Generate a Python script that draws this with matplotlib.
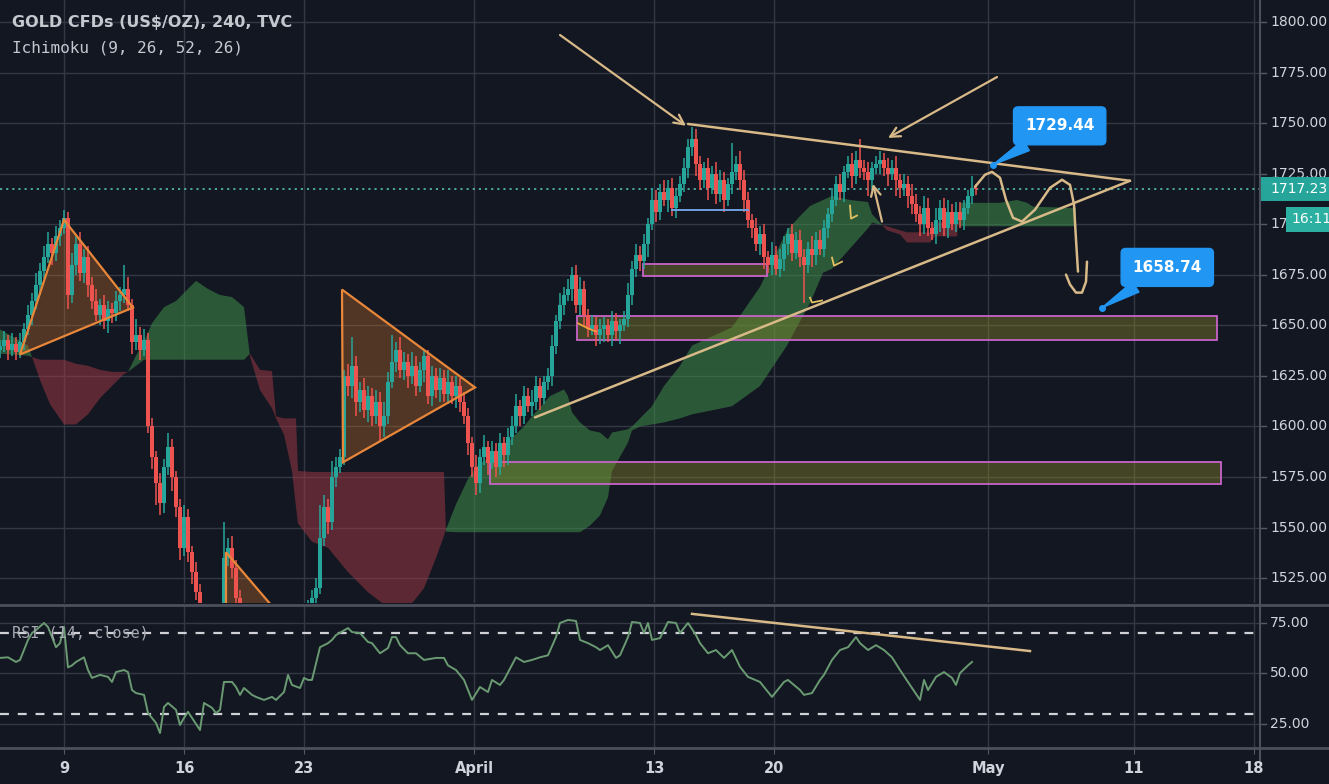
import numpy as np
import matplotlib
matplotlib.use("Agg")
import matplotlib.pyplot as plt
import matplotlib.transforms as mtransforms
from matplotlib.patches import Polygon, Rectangle

# ---------------------------------------------------------------- data
# 4-hour bars, bar 0 = first bar of Mon 9 March
first_bar = -16
closes = [
    1640, 1643, 1638, 1641, 1637, 1642, 1648, 1655, 1662, 1670,
    1677, 1684, 1690, 1686, 1694, 1698, 1703, 1665, 1680, 1690,
    1676, 1684, 1670, 1662, 1655, 1660, 1652, 1658, 1656, 1662,
    1665, 1668, 1660, 1642, 1645, 1638, 1643, 1600, 1585, 1572,
    1562, 1580, 1590, 1575, 1560, 1540, 1555, 1538, 1528, 1518,
    1505, 1490, 1478, 1470, 1485, 1495, 1535, 1540, 1530, 1515,
    1505, 1500, 1490, 1485, 1478, 1488, 1495, 1482, 1475, 1470,
    1480, 1490, 1497, 1505, 1498, 1495, 1502, 1508, 1515, 1520,
    1545, 1560, 1553, 1575, 1580, 1585, 1625, 1620, 1630, 1612,
    1618, 1608, 1615, 1605, 1612, 1600, 1605, 1622, 1632, 1638,
    1628, 1632, 1625, 1630, 1620, 1628, 1635, 1615, 1625, 1618,
    1624, 1616, 1622, 1615, 1620, 1612, 1605, 1592, 1580, 1572,
    1585, 1590, 1582, 1588, 1580, 1592, 1586, 1595, 1600, 1610,
    1605, 1615, 1610, 1612, 1620, 1614, 1622, 1625, 1640, 1652,
    1660, 1665, 1668, 1675, 1660, 1668, 1655, 1648, 1650, 1645,
    1648, 1650, 1645, 1652, 1647, 1650, 1653, 1665, 1678, 1685,
    1682, 1690, 1700, 1712, 1706, 1716, 1712, 1718, 1708, 1714,
    1720, 1728, 1738, 1742, 1730, 1722, 1728, 1718, 1725, 1715,
    1722, 1712, 1720, 1726, 1730, 1722, 1712, 1702, 1698, 1690,
    1695, 1684, 1680, 1685, 1678, 1683, 1690, 1695, 1686, 1692,
    1684, 1680, 1688, 1685, 1692, 1688, 1698, 1705, 1712, 1720,
    1716, 1726, 1730, 1724, 1732, 1728, 1726, 1722, 1728, 1730,
    1732, 1728, 1725, 1728, 1722, 1718, 1720, 1714, 1710, 1705,
    1700, 1708, 1698, 1695, 1702, 1708, 1698, 1706, 1700, 1706,
    1702, 1708, 1714, 1718, 1717.23,
]
first_open = 1638
wick_up = [
    3, 4, 2, 5, 3, 4, 3, 5, 4, 6,
    4, 5, 6, 3, 5, 4, 4, 3, 6, 5,
    6, 4, 5, 4, 6, 3, 5, 4, 3, 5,
    4, 12, 6, 3, 8, 4, 5, 3, 4, 3,
    5, 4, 7, 4, 3, 4, 6, 4, 3, 5,
    4, 5, 3, 4, 5, 4, 18, 5, 6, 4,
    4, 5, 4, 3, 5, 4, 6, 4, 3, 4,
    5, 4, 6, 5, 4, 5, 4, 6, 4, 5,
    16, 6, 4, 8, 5, 4, 3, 6, 14, 5,
    4, 6, 5, 4, 6, 5, 7, 5, 13, 4,
    6, 5, 4, 7, 5, 4, 3, 3, 5, 4,
    5, 4, 6, 3, 5, 4, 5, 4, 3, 6,
    4, 6, 3, 5, 4, 5, 3, 4, 5, 6,
    3, 5, 4, 6, 5, 4, 3, 4, 5, 3,
    6, 4, 5, 4, 5, 6, 4, 3, 5, 4,
    5, 4, 3, 5, 4, 3, 4, 6, 4, 5,
    4, 5, 3, 6, 5, 4, 6, 4, 5, 3,
    4, 5, 4, 6, 5, 4, 3, 5, 4, 6,
    5, 4, 3, 14, 4, 6, 5, 4, 3, 5,
    4, 5, 3, 6, 4, 5, 4, 3, 5, 4,
    5, 4, 3, 6, 4, 5, 4, 3, 6, 4,
    5, 3, 4, 5, 4, 10, 4, 5, 3, 4,
    4, 3, 5, 4, 6, 3, 5, 4, 6, 5,
    4, 6, 5, 3, 6, 4, 5, 6, 4, 5,
    5, 4, 3, 6, 2,
]
wick_dn = [
    4, 3, 5, 3, 4, 3, 4, 3, 5, 4,
    5, 4, 3, 6, 4, 5, 3, 7, 4, 5,
    4, 5, 6, 4, 3, 5, 4, 6, 5, 4,
    5, 4, 3, 6, 4, 5, 3, 3, 6, 11,
    6, 5, 4, 7, 5, 6, 4, 5, 6, 4,
    5, 4, 6, 5, 4, 5, 3, 4, 5, 4,
    5, 4, 6, 4, 3, 5, 4, 6, 5, 4,
    4, 5, 3, 4, 6, 5, 4, 3, 5, 4,
    3, 4, 6, 4, 5, 3, 4, 5, 6, 7,
    5, 4, 6, 5, 4, 7, 5, 4, 3, 5,
    4, 5, 6, 4, 5, 3, 6, 4, 5, 4,
    6, 4, 5, 4, 6, 5, 4, 6, 5, 6,
    5, 4, 6, 3, 5, 4, 6, 5, 4, 3,
    5, 4, 3, 5, 4, 6, 3, 4, 5, 4,
    4, 5, 3, 6, 4, 5, 6, 4, 3, 5,
    4, 6, 3, 5, 4, 6, 3, 4, 5, 4,
    5, 4, 6, 3, 5, 4, 3, 6, 4, 5,
    3, 4, 5, 4, 6, 5, 4, 6, 3, 5,
    4, 6, 3, 5, 4, 5, 6, 4, 5, 3,
    5, 6, 4, 5, 3, 4, 6, 5, 4, 3,
    5, 19, 4, 6, 5, 3, 4, 5, 4, 3,
    4, 5, 3, 6, 4, 5, 4, 8, 5, 3,
    5, 4, 6, 3, 8, 5, 4, 6, 5, 4,
    6, 5, 4, 3, 5, 6, 4, 5, 3, 4,
    4, 5, 3, 4, 3,
]

# Ichimoku cloud (leading spans, already displaced 26 bars forward)
cloud_bars = [
    -16, -9, -6, -3.5, 0, 3, 6, 9, 12, 15, 16, 18, 20, 22, 25, 28, 31, 33,
    36, 39, 42, 45, 46.5, 49, 52, 53, 55, 57, 58, 58.5, 62, 66, 71, 76, 80,
    86, 90, 93, 95, 95.5, 98, 101, 103, 109, 115, 117, 121.5, 125, 126, 127,
    129, 131.5, 134, 136, 137, 141, 142, 144, 147, 150, 154, 157, 167, 174,
    180.75, 184, 186.5, 189.75, 192, 196.5, 201, 202, 205.75, 209, 210.75,
    216.5, 217.75, 223.25, 224, 234, 238.25, 240.75, 242.25, 253,
]
span_a = [
    1648, 1640, 1623, 1611, 1601, 1601, 1606, 1614, 1620, 1626, 1627, 1635,
    1642, 1651, 1659, 1662, 1668, 1672, 1668, 1665, 1664, 1659, 1634.6, 1618,
    1609, 1604, 1596, 1578, 1560, 1552, 1543, 1540, 1528, 1518, 1512, 1510,
    1520, 1535, 1546, 1549, 1561.5, 1574, 1580, 1588.7, 1600, 1605, 1615,
    1618.3, 1615, 1607, 1602, 1598, 1597, 1593.6, 1597, 1598.6, 1600, 1604,
    1610, 1620, 1630, 1640, 1649, 1669, 1697, 1704, 1709, 1712, 1714, 1712,
    1711, 1705, 1697, 1695, 1691, 1691, 1694, 1694, 1710.6, 1710.6, 1712,
    1710.6, 1708.7, 1708,
]
span_b = [
    1636, 1635, 1633, 1633, 1633, 1631, 1630, 1628, 1627, 1627, 1627, 1630,
    1633, 1633, 1633, 1633, 1633, 1633, 1633, 1633, 1633, 1633, 1636, 1628,
    1627.4, 1605, 1604, 1604, 1604, 1578, 1577.5, 1577.5, 1577.5, 1577.5,
    1577.5, 1577.5, 1577.5, 1577.5, 1577.5, 1548, 1547.7, 1547.7, 1547.7,
    1547.7, 1547.7, 1547.7, 1547.7, 1547.7, 1547.7, 1547.7, 1547.7, 1551,
    1556, 1565, 1578, 1592, 1598, 1600, 1601, 1602, 1604, 1606, 1610, 1620,
    1640, 1652, 1661, 1676, 1678, 1688, 1698, 1700.8, 1699, 1697, 1696, 1696,
    1701, 1701, 1699, 1699, 1699, 1699, 1699, 1699,
]

# RSI (14, close)
rsi_bars = [
    -16, -14, -12, -11, -10, -9, -8, -7, -5, -4, -2, -1, 0, 1, 2, 3, 5, 6, 7,
    9, 11, 12, 13, 15, 16, 17, 18, 20, 21, 23, 24, 25, 26, 28, 29, 30, 31,
    32, 34, 35, 37, 38, 39, 40, 42, 43, 44, 45, 47, 48, 50, 52, 53, 55, 56,
    57, 59, 60, 61, 62, 64, 66, 67, 68, 71, 72, 74, 76, 77, 79, 81, 82, 83,
    84, 86, 88, 90, 93, 95, 96, 98, 100, 102, 104, 106, 107, 109, 110, 113,
    115, 117, 119, 121, 123, 124, 126, 128, 129, 131, 133, 134, 136, 138,
    139, 141, 142, 144, 145, 146, 147, 149, 151, 153, 154, 156, 158, 159,
    161, 163, 165, 167, 169, 171, 174, 175, 177, 180, 181, 184, 185, 187,
    189, 190, 192, 194, 196, 198, 199, 201, 203, 205, 207, 209, 211, 212,
    214, 215, 216, 218, 220, 222, 223, 224, 226, 227,
]
rsi_values = [
    57.7, 58, 55.7, 56.7, 61.6, 66.6, 70, 71.5, 75, 73, 63, 65, 73, 53, 54,
    55.7, 58, 51.7, 47.8, 49.3, 48.3, 45.8, 50.7, 51.7, 50.7, 41.8, 40.3,
    39.4, 30.4, 25.5, 20.5, 33.4, 35.4, 32, 24.5, 28, 31, 28, 22, 35.4, 33,
    30.4, 32, 45.8, 45.8, 43.3, 39.4, 42.8, 39.4, 38.4, 36.9, 38.4, 36.9,
    40.8, 49.3, 44.3, 42.8, 47.8, 46.8, 46.8, 63, 65, 66.6, 69, 72.5, 70.5,
    70, 65.6, 65, 60, 62.6, 68, 68, 64, 60, 60, 56.7, 57.7, 57.7, 54, 51.7,
    46.8, 36.9, 43.3, 40.8, 46.8, 44.3, 46.8, 58, 55.7, 56.7, 58, 59, 68, 75,
    76.5, 76, 66.6, 65, 63, 61.6, 64, 57.7, 59, 68, 75.5, 75, 70, 75, 66.6,
    67.5, 75.5, 75, 70, 75, 69, 65, 60, 61.6, 57.7, 61.6, 53.3, 48.3, 45.8,
    43.3, 38.4, 45.8, 46.8, 41.8, 39.4, 40.3, 46.8, 49.3, 56.7, 61.6, 63, 68,
    65, 61.6, 64, 61.6, 58, 51.7, 45.8, 42.8, 36.9, 46.8, 41.8, 48.3, 50.7,
    47.8, 44.3, 50.2, 54, 55.7,
]

price_ticks = [1800, 1775, 1750, 1725, 1700, 1675, 1650, 1625, 1600, 1575, 1550, 1525]
rsi_ticks = [75, 50, 25]
time_tick_bars = [0, 30, 60, 102.5, 147.5, 177.5, 231, 267.5, 297.5]
time_tick_labels = ["9", "16", "23", "April", "13", "20", "May", "11", "18"]

last_price = 1717.23
bar_countdown = "16:11"
target_high = 1729.44
target_low = 1658.74
target_high_bar = 232.25
target_low_bar = 259.5

# chart drawings (bar, price)
resistance_line = ([156, 266.5], [1749.6, 1721.5])
support_line = ([117.75, 266.5], [1604.5, 1721.5])
triangle_left = [(-11, 1635.6), (0, 1702.2), (17.25, 1658.8)]
triangle_mid = [(69.5, 1667.7), (102.75, 1619.3), (69.75, 1582.3)]
triangle_low = [(40.5, 1537.8), (59, 1495), (40.5, 1495)]
zone_boxes = [  # (start bar, end bar, low, high)
    (128.25, 288.25, 1643.0, 1654.4),
    (106.5, 289.25, 1571.4, 1582.3),
    (144.75, 175.75, 1674.6, 1680.5),
]
arrow_a = ((124, 1793.6), (155.5, 1748.7))
arrow_b = ((233.25, 1772.8), (206, 1742.7))
arrow_c = ((204.5, 1701.3), (202.25, 1720.0))
projection_bars = [227.75, 230.25, 232, 234, 235.5, 237.25, 239.5, 242.75,
                   246.5, 249.5, 251.5, 252.5, 253, 253.5]
projection_prices = [1718.5, 1724.5, 1725.9, 1723, 1712.1, 1703.2, 1701.3,
                     1707.2, 1718, 1722, 1719.5, 1709.7, 1692.4, 1676.6]
hook_bars = [250.5, 251.5, 253, 254.5, 255.5, 255.75]
hook_prices = [1675.1, 1670.2, 1666.2, 1666.2, 1671.6, 1681.5]
small_hooks = [
    ([196.5, 196.75, 198.25], [1709.2, 1702.8, 1704.3]),
    ([192, 192.5, 194.5], [1683.5, 1679.5, 1681.5]),
    ([186.5, 187, 189.5], [1663.7, 1661.3, 1662.3]),
]
rsi_trend = ([157, 241.5], [79.5, 61.1])

# ---------------------------------------------------------------- style
BG = "#131722"
GRID = "#343845"
TEXT = "#d1d4dc"
UP = "#26a69a"
DOWN = "#ef5350"
TAN = "#d8b988"
BLUE = "#2196f3"
TEAL = "#26a69a"

W, H = 1329, 784
fig = plt.figure(figsize=(W / 100, H / 100), dpi=100)
fig.patch.set_facecolor(BG)

ax = fig.add_axes([0, 1 - 603 / H, 1260 / W, 603 / H])
rax = fig.add_axes([0, 1 - 747 / H, 1260 / W, 141 / H], sharex=ax)
for a in (ax, rax):
    a.set_facecolor(BG)
    for s in a.spines.values():
        s.set_visible(False)
    a.tick_params(axis="y", left=False, right=False, labelleft=False)
ax.tick_params(axis="x", bottom=False, labelbottom=False)

ax.set_xlim(-16, 299)
ax.set_ylim(1512.7, 1810.9)
rax.set_ylim(13.6, 83.4)

# grid
for b in time_tick_bars:
    ax.axvline(b, color=GRID, lw=1, zorder=0)
    rax.axvline(b, color=GRID, lw=1, zorder=0)
for p in price_ticks:
    ax.axhline(p, color=GRID, lw=1, zorder=0)
for r in rsi_ticks:
    rax.axhline(r, color=GRID, lw=1, zorder=0)

# Ichimoku cloud
cb = np.array(cloud_bars, dtype=float)
sa = np.array(span_a, dtype=float)
sb = np.array(span_b, dtype=float)
ax.fill_between(cb, sa, sb, where=sa >= sb, interpolate=True,
                color="#3f8f4a", alpha=0.55, lw=0, zorder=1)
ax.fill_between(cb, sa, sb, where=sa < sb, interpolate=True,
                color="#a33a45", alpha=0.5, lw=0, zorder=1)

# zones
for x0, x1, lo, hi in zone_boxes:
    ax.add_patch(Rectangle((x0, lo), x1 - x0, hi - lo, facecolor="#8a8a2a",
                           alpha=0.4, edgecolor="none", zorder=1.5))
    ax.add_patch(Rectangle((x0, lo), x1 - x0, hi - lo, facecolor="none",
                           edgecolor="#c864c8", lw=1.3, zorder=2))

# triangles
for tri in (triangle_left, triangle_mid, triangle_low):
    ax.add_patch(Polygon(tri, closed=True, facecolor="#b86b2a", alpha=0.38,
                         edgecolor="none", zorder=1.6))

# candles
bars = np.arange(first_bar, first_bar + len(closes))
c = np.array(closes, dtype=float)
o = np.concatenate([[first_open], c[:-1]])
hi = np.maximum(o, c) + np.array(wick_up)
lo = np.minimum(o, c) - np.array(wick_dn)
cols = np.where(c >= o, UP, DOWN)
ax.vlines(bars, lo, hi, colors=cols, lw=1.1, zorder=3)
body = np.maximum(np.abs(c - o), 0.6)
ax.bar(bars, body, bottom=np.minimum(o, c), width=0.8, color=cols,
       lw=0, zorder=4)

for tri in (triangle_left, triangle_mid, triangle_low):
    ax.add_patch(Polygon(tri, closed=True, facecolor="none",
                         edgecolor="#e8873a", lw=1.6, zorder=5))

# extra level marks
ax.plot([152, 171], [1707.2, 1707.2], color="#6fa0e0", lw=1.4, zorder=5)
ax.plot([128.5, 131, 133], [1651, 1648.5, 1647], color="#f0a040", lw=1.3, zorder=5)

# last price line
ax.axhline(last_price, color="#4fb3a9", lw=1.3, ls=(0, (1.2, 2.2)), zorder=2.5)

# trend lines and annotations
ax.plot(*resistance_line, color=TAN, lw=1.8, zorder=6, solid_capstyle="round")
ax.plot(*support_line, color=TAN, lw=1.8, zorder=6, solid_capstyle="round")
for start, end in (arrow_a, arrow_b, arrow_c):
    ax.annotate("", xy=end, xytext=start,
                arrowprops=dict(arrowstyle="->,head_length=0.7,head_width=0.35",
                                color=TAN, lw=1.6, shrinkA=0, shrinkB=0),
                zorder=6)
ax.plot(projection_bars, projection_prices, color=TAN, lw=1.8, zorder=6,
        solid_joinstyle="round", solid_capstyle="round")
ax.plot(hook_bars, hook_prices, color=TAN, lw=1.8, zorder=6,
        solid_joinstyle="round", solid_capstyle="round")
for hx, hy in small_hooks:
    ax.plot(hx, hy, color="#e0c060", lw=1.3, zorder=6)

# callouts
for val, tip_bar, off in ((target_high, target_high_bar, (48, 28)),
                          (target_low, target_low_bar, (47, 29))):
    ax.annotate(f"{val:.2f}", xy=(tip_bar, val), xytext=off,
                textcoords="offset points", ha="center", va="center",
                fontsize=11, fontweight="bold", color="white",
                bbox=dict(boxstyle="round,pad=0.75,rounding_size=0.3",
                          fc=BLUE, ec=BLUE),
                arrowprops=dict(arrowstyle="wedge,tail_width=0.8,shrink_factor=0.5",
                                fc=BLUE, ec=BLUE, shrinkA=0, shrinkB=0),
                zorder=8)
    ax.plot([tip_bar], [val], "o", ms=4, color=BLUE, zorder=8)

# RSI
rax.plot(rsi_bars, rsi_values, color="#6a9a72", lw=1.4, zorder=3)
for lvl in (70, 30):
    rax.axhline(lvl, color="#cfd1d6", lw=1.6, ls=(0, (4, 4)), zorder=2)
rax.plot(*rsi_trend, color=TAN, lw=1.8, zorder=4)
rax.text(12 / 1260, 70, "RSI (14, close)", transform=mtransforms.blended_transform_factory(
    rax.transAxes, rax.transData), family="DejaVu Sans Mono", fontsize=11,
    color="#a7aab2", va="center", ha="left", zorder=5)

# right price scale
LABEL_X = 1270 / 1260
bt = mtransforms.blended_transform_factory(ax.transAxes, ax.transData)
for p in price_ticks:
    ax.plot([1.0, 1.005], [p, p], transform=bt, color="#555a66", lw=1, clip_on=False)
    txt = f"{p:.2f}"
    if p == 1700:
        txt = txt[:2]          # the rest sits under the countdown tag
    ax.text(LABEL_X, p, txt, transform=bt, ha="left", va="center",
            fontsize=10, color=TEXT, clip_on=False, zorder=6)
ax.add_patch(Rectangle((1.0, last_price - 5.9), 0.06, 11.8, transform=bt,
                       facecolor=TEAL, edgecolor="none", clip_on=False, zorder=7))
ax.text(LABEL_X, last_price, f"{last_price:.2f}", transform=bt, ha="left",
        va="center", fontsize=10, color="white", clip_on=False, zorder=8)
ax.add_patch(Rectangle((1286 / 1260, 1696.3), 0.035, 12.4, transform=bt,
                       facecolor="#2bb0a2", edgecolor="none", clip_on=False, zorder=7))
ax.text(1291 / 1260, 1702.5, bar_countdown, transform=bt, ha="left", va="center",
        fontsize=10, color="white", clip_on=False, zorder=8)

rbt = mtransforms.blended_transform_factory(rax.transAxes, rax.transData)
for r in rsi_ticks:
    rax.plot([1.0, 1.005], [r, r], transform=rbt, color="#555a66", lw=1, clip_on=False)
    rax.text(LABEL_X, r, f"{r:.2f}", transform=rbt, ha="left", va="center",
             fontsize=10, color=TEXT, clip_on=False)

# time scale
rax.set_xticks(time_tick_bars)
rax.set_xticklabels(time_tick_labels, fontsize=10.5, fontweight="bold", color=TEXT)
rax.tick_params(axis="x", length=5, color="#555a66", pad=5)

# pane separators
fig.add_artist(plt.Line2D([0, 1], [1 - 604.5 / H] * 2, color="#4b505c", lw=2))
fig.add_artist(plt.Line2D([0, 1], [1 - 748 / H] * 2, color="#4b505c", lw=2))
fig.add_artist(plt.Line2D([1260 / W] * 2, [1 - 760 / H, 1], color="#4b505c", lw=1.5))

# legend text
fig.text(12 / W, 1 - 22 / H, "GOLD CFDs (US$/OZ), 240, TVC", fontsize=11.5,
         fontweight="bold", color="#c5c8cf", va="center", ha="left")
fig.text(12 / W, 1 - 48 / H, "Ichimoku (9, 26, 52, 26)", fontsize=11.5,
         family="DejaVu Sans Mono", color="#c5c8cf", va="center", ha="left")

fig.savefig("out.png", dpi=100, facecolor=BG)
